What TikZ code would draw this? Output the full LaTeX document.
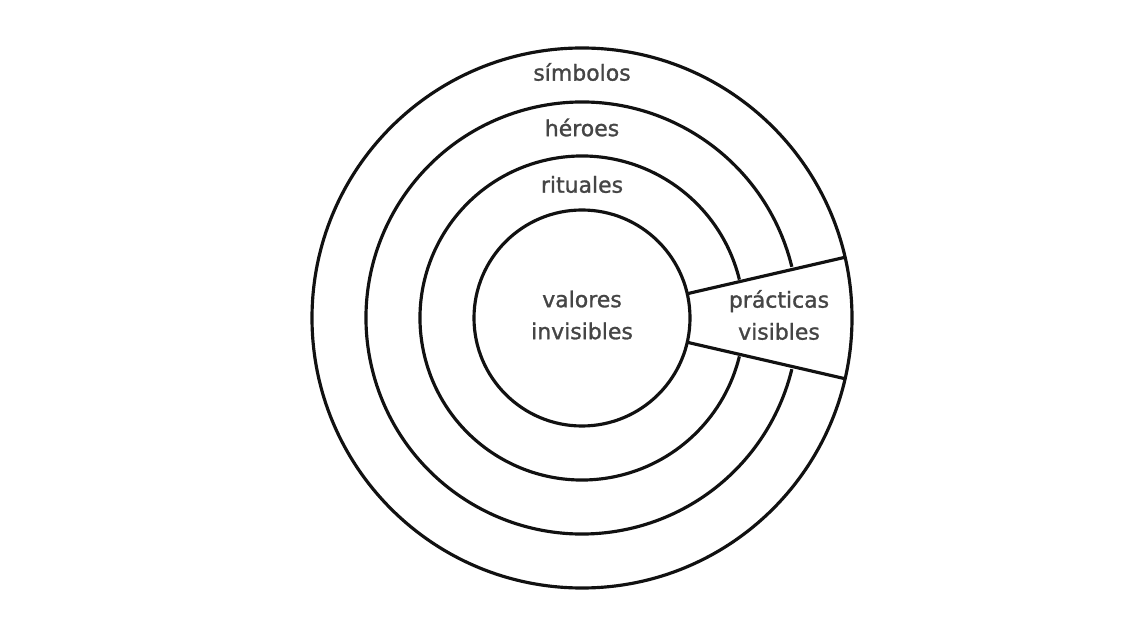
\documentclass[tikz,border=0pt]{standalone}
\usepackage{fontspec}
\setmainfont{DejaVu Sans}
\newfontfamily\lblfont{DejaVu Sans}[FakeBold=1.2]
\usepackage{xcolor}
\usepackage{tikz}
\usetikzlibrary{calc}
\definecolor{ink}{HTML}{111111}
\definecolor{lbl}{HTML}{454545}
\tikzset{
  ring/.style={draw=ink,line width=1.8pt,circle,inner sep=0pt,outer sep=0pt},
  arcline/.style={draw=ink,line width=1.8pt},
  layer/.style={font=\lblfont\fontsize{12.5}{18.2}\selectfont,text=lbl,align=center,inner sep=1pt},
}
\begin{document}
\begin{tikzpicture}
  \useasboundingbox[fill=white] (0,0) rectangle (22.74,12.84);
  \coordinate (ctr) at (11.64,6.48);
  % core and outer shell
  \node[ring,minimum size=4.32cm](core) at (ctr){};
  \node[ring,minimum size=10.8cm](shell) at (ctr){};
  % middle layers, open where the practices wedge cuts through
  \draw[arcline] ($(ctr)+(13.7:3.24)$) arc[start angle=13.7,end angle=346.3,radius=3.24];
  \draw[arcline] ($(ctr)+(13.7:4.32)$) arc[start angle=13.7,end angle=346.3,radius=4.32];
  % wedge
  \draw[arcline] (core.13.7) -- (shell.13.7);
  \draw[arcline] (core.-13.7) -- (shell.-13.7);
  % labels
  \node[layer](sim) at (11.64,11.40){símbolos};
  \node[layer](her) at (11.64,10.29){héroes};
  \node[layer](rit) at (11.64,9.15){rituales};
  \node[layer](val) at ($(ctr)+(0,0.06)$){valores\\invisibles};
  \node[layer](pra) at (15.58,6.54){prácticas\\visibles};
\end{tikzpicture}
\end{document}
